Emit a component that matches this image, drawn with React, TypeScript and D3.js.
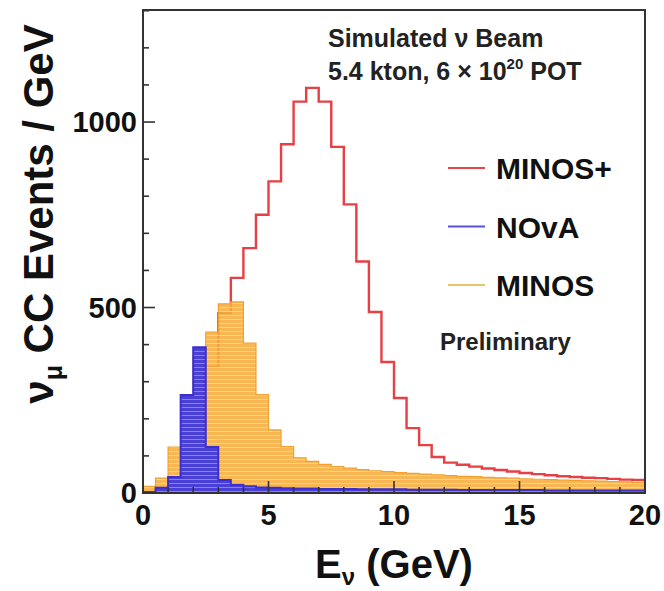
import React from 'react';
import * as d3 from 'd3';

const W = 664;
const H = 591;

// bin lower edges (GeV), 0.5 GeV bins from 0 to 20
const BIN_WIDTH = 0.5;
const BIN_LOW = d3.range(0, 20, BIN_WIDTH);

const MINOS_PLUS = [
  0, 5, 18, 60, 170, 340, 485, 580, 660, 750,
  840, 940, 1055, 1092, 1055, 933, 778, 624, 488, 353,
  256, 175, 129, 97, 82, 76, 71, 66, 62, 58,
  54, 51, 48, 45, 43, 41, 40, 38, 36, 35,
];

const MINOS = [
  18, 40, 124, 250, 370, 434, 510, 515, 404, 265,
  170, 125, 95, 85, 77, 71, 67, 63, 60, 58,
  55, 53, 51, 49, 47, 45, 44, 42, 41, 40,
  38, 37, 36, 35, 34, 33, 32, 31, 30, 28,
];

const NOVA = [
  3, 14, 43, 264, 393, 124, 35, 22, 18, 15,
  14, 13, 12, 12, 11, 11, 11, 10, 10, 10,
  10, 9, 9, 9, 9, 8, 8, 8, 8, 8,
  8, 8, 7, 7, 7, 7, 7, 7, 7, 7,
];

const X_MAJOR = [0, 5, 10, 15, 20];
const X_MINOR = d3.range(0, 21, 1);
const Y_MAJOR = [0, 500, 1000];
const Y_MINOR = d3.range(0, 1301, 100);

const LEGEND = [
  { label: 'MINOS+', color: '#e8454a' },
  { label: 'NOvA', color: '#5a50e0' },
  { label: 'MINOS', color: '#e9c46e' },
];

const FRAME = { left: 143, right: 645, top: 10, bottom: 493 };
const FONT = "'Liberation Sans', Arial, Helvetica, sans-serif";

export default function App() {
  const x = d3.scaleLinear().domain([0, 20]).range([FRAME.left, FRAME.right]);
  const y = d3.scaleLinear().domain([0, 1302]).range([FRAME.bottom, FRAME.top]);

  const stepPoints = (vals: number[]): [number, number][] => {
    const pts: [number, number][] = [[x(BIN_LOW[0]), y(0)]];
    vals.forEach((v, i) => {
      pts.push([x(BIN_LOW[i]), y(v)]);
      pts.push([x(BIN_LOW[i] + BIN_WIDTH), y(v)]);
    });
    pts.push([x(20), y(0)]);
    return pts;
  };
  const line = d3.line<[number, number]>();
  const redPath = line(stepPoints(MINOS_PLUS).slice(0, -1)) || '';
  const orangePath = (line(stepPoints(MINOS)) || '') + 'Z';
  const bluePath = (line(stepPoints(NOVA)) || '') + 'Z';

  const pw = FRAME.right - FRAME.left;
  const ph = FRAME.bottom - FRAME.top;

  return (
    <svg width={W} height={H} viewBox={`0 0 ${W} ${H}`} style={{ display: 'block', position: 'absolute', left: 0, top: 0 }}>
      <defs>
        <pattern id="orangeHatch" width="6" height="4" patternUnits="userSpaceOnUse">
          <rect width="6" height="4" fill="#f8ad3c" fillOpacity="0.88" />
          <rect y="3" width="6" height="1" fill="#fcd595" fillOpacity="0.9" />
        </pattern>
        <pattern id="blueHatch" width="6" height="4" patternUnits="userSpaceOnUse">
          <rect width="6" height="4" fill="#4a3fd6" />
          <rect y="3" width="6" height="1" fill="#8a80f0" />
        </pattern>
        <clipPath id="plotClip">
          <rect x={FRAME.left} y={FRAME.top} width={pw} height={ph} />
        </clipPath>
      </defs>
      <rect width={W} height={H} fill="#ffffff" />

      <g clipPath="url(#plotClip)">
        <path d={redPath} fill="none" stroke="#e63f44" strokeWidth={2.4} />
        <path d={orangePath} fill="url(#orangeHatch)" stroke="#f2a030" strokeWidth={1.2} />
        <path d={bluePath} fill="url(#blueHatch)" stroke="#3b2fcf" strokeWidth={2} />
      </g>

      {/* ticks */}
      <g stroke="#333" strokeWidth={1.6}>
        {X_MINOR.map((t) => {
          const major = X_MAJOR.includes(t);
          return <line key={'xt' + t} x1={x(t)} x2={x(t)} y1={FRAME.bottom} y2={FRAME.bottom - (major ? 12 : 6)} />;
        })}
        {Y_MINOR.map((t) => {
          const major = Y_MAJOR.includes(t);
          return <line key={'yt' + t} x1={FRAME.left} x2={FRAME.left + (major ? 12 : 6)} y1={y(t)} y2={y(t)} />;
        })}
      </g>

      <rect x={FRAME.left} y={FRAME.top} width={pw} height={ph} fill="none" stroke="#333" strokeWidth={2} />

      {/* tick labels */}
      <g fontFamily={FONT} fontWeight="bold" fontSize={29} fill="#111">
        {X_MAJOR.map((t) => (
          <text key={'xl' + t} x={x(t)} y={525} textAnchor="middle">{t}</text>
        ))}
        {Y_MAJOR.map((t) => (
          <text key={'yl' + t} x={137} y={y(t) + 10} textAnchor="end">{t}</text>
        ))}
      </g>

      {/* axis titles */}
      <text x={x(10)} y={578} textAnchor="middle" fontFamily={FONT} fontWeight="bold" fontSize={40} fill="#111">
        E<tspan fontSize={24} dy={7}>ν</tspan><tspan dy={-7}> (GeV)</tspan>
      </text>
      <text transform={`translate(53, 214) rotate(-90)`} textAnchor="middle" fontFamily={FONT} fontWeight="bold" fontSize={42} fill="#111">
        ν<tspan fontSize={25} dy={9}>μ</tspan><tspan dy={-9}> CC Events / GeV</tspan>
      </text>

      {/* annotation */}
      <g fontFamily={FONT} fontWeight="bold" fontSize={25} fill="#222">
        <text x={328} y={47}>Simulated ν Beam</text>
        <text x={328} y={80}>
          5.4 kton, 6 × 10<tspan fontSize={15} dy={-11}>20</tspan><tspan dy={11}> POT</tspan>
        </text>
      </g>

      {/* legend */}
      {LEGEND.map((d, i) => {
        const cy = 168 + i * 58.5;
        return (
          <g key={d.label}>
            <line x1={448} x2={485} y1={cy} y2={cy} stroke={d.color} strokeWidth={2.2} />
            <text x={496} y={cy + 11} fontFamily={FONT} fontWeight="bold" fontSize={30} fill="#111">{d.label}</text>
          </g>
        );
      })}
      <text x={440} y={350} fontFamily={FONT} fontWeight="bold" fontSize={24} fill="#222">Preliminary</text>
    </svg>
  );
}
